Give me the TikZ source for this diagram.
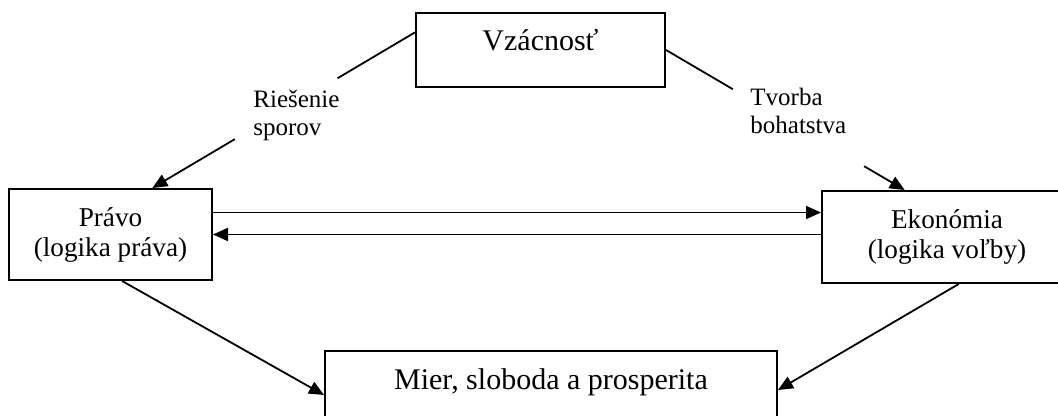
\documentclass[tikz,border=0pt]{standalone}
\usepackage{fontspec}
\setmainfont{Liberation Serif}
\usetikzlibrary{arrows.meta,calc}

\tikzset{
  box/.style={draw, line width=1pt, inner sep=0pt, align=center},
  big/.style={font=\fontsize{15}{17}\selectfont},
  mid/.style={font=\fontsize{13.6}{15}\selectfont},
  note/.style={font=\fontsize{12.5}{14}\selectfont, inner sep=0pt, align=left, anchor=north west},
  link/.style={line width=0.9pt},
  arr/.style={link, -{Triangle[length=7.5pt,width=6.5pt]}}
}

\begin{document}
\begin{tikzpicture}[x=0.5pt, y=-0.5pt]
    \useasboundingbox (0,0) rectangle (1058,416);

    % Boxes
    \node[box, big, anchor=north, minimum width=124.5pt, text height=19pt, text depth=18pt] (vz) at (540.5,12) {Vzácnosť};
    \node[box, mid, minimum width=101.5pt, minimum height=45.5pt] (pravo) at (110.5,234.5) {Právo\\(logika práva)};
    \node[box, mid, minimum width=125pt, minimum height=46pt] (eko) at (947,237) {Ekonómia\\(logika voľby)};
    \node[box, big, anchor=north, minimum width=226pt, text height=19pt, text depth=40pt] (mier) at (551,350) {Mier, sloboda a prosperita};

    % Labels on the upper links
    \node[note] (spor) at (253,90) {Riešenie\\sporov};
    \node[note] (bohat) at (750,88) {Tvorba\\bohatstva};

    % Scarcity to law and economy
    \draw[link] (vz.172) -- ($(vz.172)!0.295!(pravo.48)$);
    \draw[arr] ($(vz.172)!0.686!(pravo.48)$) -- (pravo.48);
    \draw[link] (vz.east) -- ($(vz.east)!0.28!(eko.132)$);
    \draw[arr] ($(vz.east)!0.83!(eko.132)$) -- (eko.132);

    % Between law and economy
    \draw[arr] ([yshift=11pt]pravo.east) -- ([yshift=11pt]pravo.east -| eko.west);
    \draw[arr] (eko.west |- pravo.east) -- (pravo.east);

    % Down to the result
    \draw[arr] (pravo.-76) -- ([yshift=-22.5pt]mier.north west);
    \draw[arr] (eko.-76) -- ([yshift=-20pt]mier.north east);
\end{tikzpicture}
\end{document}
